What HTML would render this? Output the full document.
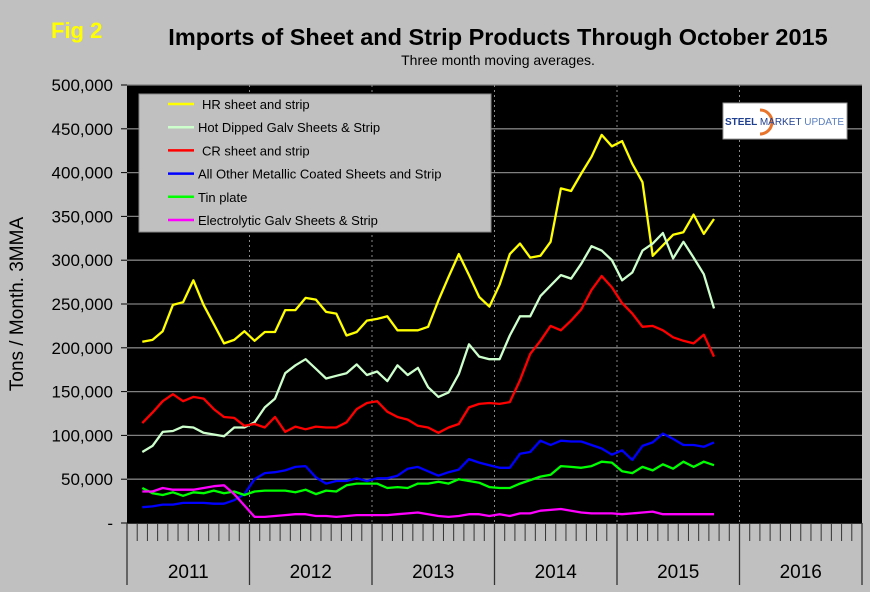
<!DOCTYPE html>
<html><head><meta charset="utf-8"><style>
body{margin:0;background:#c0c0c0;}
svg{display:block;font-family:"Liberation Sans",Arial,sans-serif;}
</style></head><body>
<svg id="chart" width="870" height="592">
<rect x="0" y="0" width="870" height="592" fill="#c0c0c0"/>
<text x="51" y="38" font-size="22" font-weight="bold" fill="#ffff00">Fig 2</text>
<text x="498" y="45" font-size="23.5" font-weight="bold" text-anchor="middle" fill="#000">Imports of Sheet and Strip Products Through October 2015</text>
<text x="498" y="65" font-size="14" text-anchor="middle" fill="#000">Three month moving averages.</text>
<text transform="translate(23,304) rotate(-90)" font-size="19" text-anchor="middle" fill="#000">Tons / Month. 3MMA</text>
<rect x="127" y="85" width="735" height="438" fill="#000"/>
<g id="grid"></g><g id="yticks"></g><g id="xaxis"></g><g id="series"></g>
<g>
<rect x="139" y="94" width="352" height="138" fill="#c0c0c0" stroke="#888"/>
</g>
<g id="legend"></g>
<g>
<rect x="723" y="103" width="124" height="36" fill="#fff" stroke="#999"/>
<path d="M760 110 A12 12 0 1 1 760 134" fill="none" stroke="#e8732a" stroke-width="3"/>
<text x="725" y="125" font-size="10" font-weight="bold" fill="#1f3f8f">STEEL <tspan font-weight="normal">MARKET</tspan> <tspan font-weight="normal" fill="#5a7fbf">UPDATE</tspan></text>
</g>
</svg>
<script>
const yTicks=[0,50000,100000,150000,200000,250000,300000,350000,400000,450000,500000];
const yLabels=["-","50,000","100,000","150,000","200,000","250,000","300,000","350,000","400,000","450,000","500,000"];
const years=["2011","2012","2013","2014","2015","2016"];
const seriesNames=["HR sheet and strip","Hot Dipped Galv Sheets & Strip","CR sheet and strip","All Other Metallic Coated Sheets and Strip","Tin plate","Electrolytic Galv Sheets & Strip"];
const seriesColors=["#ffff00","#ccffcc","#ff0000","#0000ff","#00ff00","#ff00ff"];
// values in thousands of tons, Feb 2011 .. Oct 2015
const hr=[207,209,219,249,252,277,249,227,205,209,219,208,218,218,243,243,257,255,241,239,214,218,231,233,236,220,220,220,224,254,281,307,283,258,247,272,307,319,303,305,321,382,379,399,418,443,430,436,410,389,305,317,329,332,352,330,347];
const hdg=[81,88,104,105,110,109,103,101,99,109,109,115,132,142,171,180,187,176,165,168,171,181,169,173,162,180,169,177,155,144,149,170,204,190,187,187,214,236,236,259,271,283,279,296,316,311,300,277,286,311,319,331,302,321,303,284,245];
const cr=[114,126,139,147,139,144,142,130,121,120,111,113,109,121,104,110,107,110,109,109,115,130,137,139,127,121,118,111,109,103,109,113,132,136,137,136,138,163,193,208,225,220,231,244,266,282,269,251,239,224,225,220,212,208,205,215,190];
const other=[18,19,21,21,23,23,23,22,22,26,33,50,57,58,60,64,65,52,45,48,48,51,48,51,51,54,62,64,59,54,58,61,73,69,66,63,63,79,81,94,89,94,93,93,89,85,78,83,72,88,92,102,96,89,89,87,92];
const tin=[40,34,32,35,31,35,34,37,34,36,32,36,37,37,37,35,38,33,37,36,43,45,45,45,40,41,40,45,45,47,45,50,48,46,41,40,40,45,49,53,55,65,64,63,65,70,69,59,57,64,60,67,62,70,64,70,66];
const eg=[36,36,40,38,38,38,40,42,43,33,20,7,7,8,9,10,10,8,8,7,8,9,9,9,9,10,11,12,10,8,7,8,10,10,8,10,8,11,11,14,15,16,14,12,11,11,11,10,11,12,13,10,10,10,10,10,10];
const allSeries=[hr,hdg,cr,other,tin,eg];
const startMonth=1; // Feb 2011 index from Jan 2011
const NS="http://www.w3.org/2000/svg";
const L=127,R=862,T=85,B=523,monthW=(R-L)/72;
const y=v=>B-(v/500000)*(B-T);
const x=m=>L+(m+0.5)*monthW;
function mk(tag,attrs,parent){const e=document.createElementNS(NS,tag);for(const k in attrs)e.setAttribute(k,attrs[k]);parent.appendChild(e);return e;}
const grid=document.getElementById('grid'),yt=document.getElementById('yticks'),xa=document.getElementById('xaxis'),sg=document.getElementById('series'),lg=document.getElementById('legend');
yTicks.forEach((t,i)=>{
  if(t>0){const g=mk('line',{x1:L,x2:R,y1:y(t),y2:y(t),stroke:'#808080','stroke-width':1.3},grid);
  
  }
  const tk=mk('line',{x1:L-6,x2:L,y1:y(t),y2:y(t),stroke:'#000'},yt);
  
  
  const lb=mk('text',{x:113,y:y(t)+6,'font-size':17,'text-anchor':'end',fill:'#000'},yt);
  lb.textContent=yLabels[i];
  
  
});
const ax=mk('line',{x1:L,x2:R,y1:B,y2:B,stroke:'#000','stroke-width':1.5},xa);


for(let m=0;m<=72;m++){
  const xx=L+m*monthW;
  const isYear=m%12===0;
  const t=mk('line',{x1:xx,x2:xx,y1:B,y2:isYear?585:541,stroke:'#333','stroke-width':isYear?1.3:1},xa);
  
  
  if(isYear&&m>0&&m<72){const d=mk('line',{x1:xx,x2:xx,y1:T,y2:B,stroke:'#888','stroke-dasharray':'2,3'},grid);
  
  }
}
years.forEach((yr,i)=>{
  const t=mk('text',{x:L+(i*12+6)*monthW,y:578,'font-size':19,'text-anchor':'middle',fill:'#000'},xa);
  t.textContent=yr;
  
  
});
allSeries.forEach((s,si)=>{
  const pts=s.map((v,i)=>x(startMonth+i).toFixed(1)+','+y(v*1000).toFixed(1)).join(' ');
  const p=mk('polyline',{points:pts,fill:'none',stroke:seriesColors[si],'stroke-width':2.3,'stroke-linejoin':'round'},sg);
  
  
});
seriesNames.forEach((n,i)=>{
  const yy=104+i*23.2;
  const l=mk('line',{x1:168,x2:194,y1:yy,y2:yy,stroke:seriesColors[i],'stroke-width':2.5},lg);
  
  
  const t=mk('text',{x:(i==0||i==2)?202:198,y:yy+5,'font-size':13,fill:'#000'},lg);
  t.textContent=n;
  
  
});
</script>
</body></html>
